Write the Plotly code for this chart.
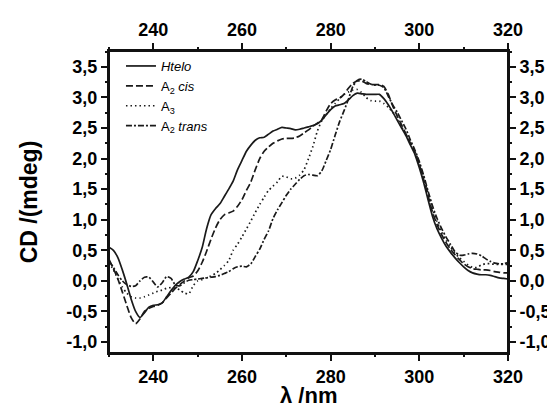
import plotly.graph_objects as go

# ---------------- data ----------------
wavelength = list(range(230, 321))

htelo = [0.55, 0.50, 0.38, 0.18, -0.05, -0.30, -0.50, -0.60, -0.52, -0.43,
         -0.40, -0.39, -0.36, -0.26, -0.16, -0.07, -0.01, 0.03, 0.06, 0.15,
         0.33, 0.54, 0.85, 1.08, 1.18, 1.26, 1.38, 1.50, 1.63, 1.82,
         1.97, 2.12, 2.22, 2.30, 2.34, 2.35, 2.40, 2.45, 2.48, 2.51,
         2.50, 2.49, 2.47, 2.48, 2.50, 2.52, 2.54, 2.57, 2.63, 2.72,
         2.80, 2.86, 2.88, 2.90, 2.96, 3.03, 3.07, 3.06, 3.05, 3.05,
         3.05, 3.05, 2.98, 2.88, 2.76, 2.63, 2.50, 2.37, 2.22, 2.07,
         1.85, 1.60, 1.32, 1.05, 0.85, 0.70, 0.57, 0.47, 0.38, 0.30,
         0.23, 0.17, 0.13, 0.11, 0.10, 0.10, 0.09, 0.07, 0.05, 0.04,
         0.03]

a2_cis = [0.35, 0.20, 0.03, -0.18, -0.40, -0.60, -0.70, -0.62, -0.50, -0.45,
          -0.42, -0.40, -0.36, -0.28, -0.20, -0.12, -0.06, 0.00, 0.05, 0.08,
          0.16, 0.30, 0.48, 0.68, 0.86, 1.00, 1.08, 1.11, 1.14, 1.22,
          1.33, 1.48, 1.62, 1.82, 2.00, 2.12, 2.19, 2.25, 2.29, 2.32,
          2.33, 2.33, 2.34, 2.37, 2.42, 2.47, 2.53, 2.58, 2.64, 2.78,
          2.90, 2.96, 2.99, 3.05, 3.15, 3.23, 3.27, 3.27, 3.23, 3.21,
          3.21, 3.21, 3.18, 3.05, 2.86, 2.70, 2.55, 2.40, 2.25, 2.10,
          1.90, 1.65, 1.38, 1.12, 0.92, 0.76, 0.63, 0.52, 0.43, 0.35,
          0.28, 0.23, 0.20, 0.19, 0.18, 0.18, 0.17, 0.15, 0.14, 0.13,
          0.13]

a3 = [0.30, 0.18, 0.03, -0.10, -0.20, -0.26, -0.28, -0.28, -0.26, -0.23,
      -0.20, -0.17, -0.15, -0.12, -0.11, -0.12, -0.15, -0.20, -0.21, -0.08,
      0.00, 0.02, 0.05, 0.08, 0.12, 0.18, 0.25, 0.33, 0.50, 0.60,
      0.72, 0.85, 0.98, 1.12, 1.25, 1.37, 1.48, 1.55, 1.62, 1.71,
      1.70, 1.67, 1.68, 1.73, 1.82, 2.00, 2.20, 2.45, 2.62, 2.72,
      2.82, 2.90, 2.98, 3.05, 3.09, 3.12, 3.13, 3.08, 3.00, 2.95,
      2.94, 2.94, 2.90, 2.84, 2.76, 2.64, 2.52, 2.40, 2.26, 2.12,
      1.92, 1.68, 1.42, 1.17, 0.97, 0.80, 0.67, 0.56, 0.46, 0.38,
      0.32, 0.26, 0.22, 0.22, 0.26, 0.28, 0.28, 0.27, 0.27, 0.27,
      0.27]

a2_trans = [0.32, 0.22, 0.10, 0.00, -0.06, -0.09, -0.08, 0.00, 0.06, 0.06,
            -0.02, -0.10, -0.03, 0.07, 0.04, -0.07, -0.08, -0.03, 0.01, 0.02,
            0.03, 0.04, 0.05, 0.06, 0.07, 0.09, 0.12, 0.15, 0.20, 0.23,
            0.24, 0.23, 0.28, 0.40, 0.52, 0.68, 0.82, 1.02, 1.16, 1.28,
            1.40, 1.50, 1.58, 1.66, 1.72, 1.74, 1.73, 1.72, 1.80, 1.97,
            2.15, 2.38, 2.60, 2.78, 2.97, 3.18, 3.28, 3.30, 3.26, 3.22,
            3.20, 3.20, 3.16, 3.02, 2.88, 2.76, 2.62, 2.48, 2.30, 2.14,
            1.95, 1.72, 1.46, 1.22, 1.02, 0.86, 0.72, 0.60, 0.48, 0.42,
            0.42, 0.44, 0.45, 0.44, 0.41, 0.36, 0.32, 0.29, 0.28, 0.28,
            0.30]

series_names = ["<i>Htelo</i>", "A<sub>2</sub> <i>cis</i>", "A<sub>3</sub>",
                "A<sub>2</sub> <i>trans</i>"]

x_tickvals = [240, 260, 280, 300, 320]
x_ticktext = ["240", "260", "280", "300", "320"]
x_minorvals = [230, 250, 270, 290, 310]
y_tickvals = [-1.0, -0.5, 0.0, 0.5, 1.0, 1.5, 2.0, 2.5, 3.0, 3.5]
y_ticktext = ["-1,0", "-0,5", "0,0", "0,5", "1,0", "1,5", "2,0", "2,5", "3,0", "3,5"]
y_minorvals = [-0.75, -0.25, 0.25, 0.75, 1.25, 1.75, 2.25, 2.75, 3.25, 3.75]

# ---------------- figure ----------------
ink = "#1a1a1a"
FONT = "Liberation Sans, Arial, sans-serif"
dashes = ["solid", "7px,3px", "1.5px,3px", "6px,2px,2px,2px"]
all_series = [htelo, a2_cis, a3, a2_trans]

fig = go.Figure()
for name, vals, dash in zip(series_names, all_series, dashes):
    fig.add_trace(go.Scatter(
        x=wavelength, y=vals, name=name, mode="lines",
        line=dict(color=ink, width=1.7, dash=dash, shape="spline", smoothing=0.6),
    ))

# transparent helper traces so that the extra (top/right/minor) axes are drawn
for xa, ya in [("x2", "y2"), ("x3", "y3"), ("x4", "y4")]:
    fig.add_trace(go.Scatter(x=wavelength, y=htelo, xaxis=xa, yaxis=ya,
                             mode="lines", line=dict(color="rgba(0,0,0,0)", width=0),
                             showlegend=False, hoverinfo="skip"))

tickfont = dict(family=FONT, size=18, color="black")
xr = [230, 320]
yr = [-1.18, 3.76]
bx = ["<b>%s</b>" % t for t in x_ticktext]
by = ["<b>%s</b>" % t for t in y_ticktext]

major = dict(showline=True, linecolor="#111111", linewidth=2,
             ticks="outside", ticklen=6, tickwidth=1.5, tickcolor="#111111",
             showgrid=False, zeroline=False, tickfont=tickfont)
minor = dict(showline=False, ticks="outside", ticklen=3, tickwidth=1.5,
             tickcolor="#111111", showgrid=False, zeroline=False,
             showticklabels=False)

fig.update_layout(
    width=555, height=407,
    margin=dict(l=101, r=43, t=43, b=62),
    paper_bgcolor="white", plot_bgcolor="white",
    font=dict(family=FONT, color="black"),
    xaxis=dict(range=xr, tickvals=x_tickvals, ticktext=bx, side="bottom", **major),
    yaxis=dict(range=yr, tickvals=y_tickvals, ticktext=by, side="left", **major,
               title=dict(text="<b>CD /(mdeg)</b>", font=dict(size=23, family=FONT), standoff=22)),
    xaxis2=dict(range=xr, tickvals=x_tickvals, ticktext=bx, side="top",
                overlaying="x", anchor="y2", **major),
    yaxis2=dict(range=yr, tickvals=y_tickvals, ticktext=by, side="right",
                overlaying="y", anchor="x2", **major),
    xaxis3=dict(range=xr, tickvals=x_minorvals, side="bottom", overlaying="x", anchor="y3", **minor),
    yaxis3=dict(range=yr, tickvals=y_minorvals, side="left", overlaying="y", anchor="x3", **minor),
    xaxis4=dict(range=xr, tickvals=x_minorvals, side="top", overlaying="x", anchor="y4", **minor),
    yaxis4=dict(range=yr, tickvals=y_minorvals, side="right", overlaying="y", anchor="x4", **minor),
    legend=dict(x=0.03, y=1.0, xanchor="left", yanchor="top",
                bgcolor="rgba(0,0,0,0)", borderwidth=0,
                font=dict(size=13, family=FONT, color="black"),
                tracegroupgap=0, itemwidth=30),
    annotations=[dict(text="<b>λ /nm</b>", xref="paper", yref="paper", x=0.5, y=-0.142,
                      xanchor="center", yanchor="middle", showarrow=False,
                      font=dict(size=22, family=FONT, color="black"))],
    shapes=[dict(type="rect", xref="paper", yref="paper", x0=0, y0=0, x1=1, y1=1,
                 line=dict(color="#111111", width=2), layer="above")],
    showlegend=True,
)

fig.write_html("out.html")
